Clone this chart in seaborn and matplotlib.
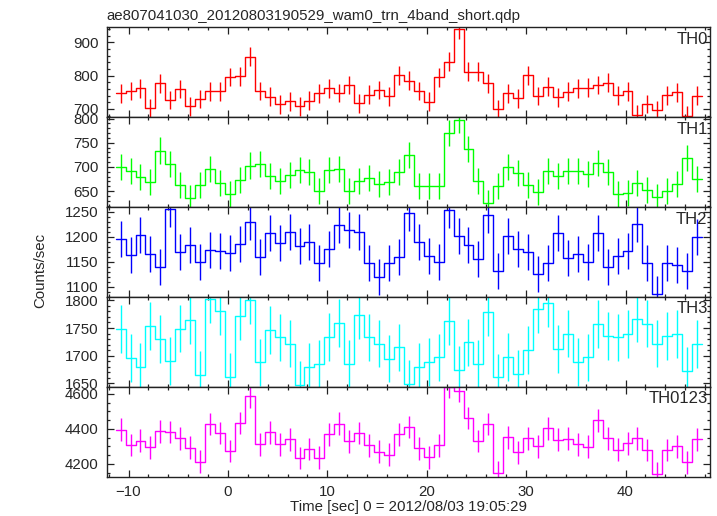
import numpy as np
import pandas as pd
import matplotlib
matplotlib.use("Agg")
import matplotlib.pyplot as plt
from matplotlib.ticker import MultipleLocator
import seaborn as sns

# light curve, 1 s bins, times relative to 2012/08/03 19:05:29
t_start = -11.3   # left edge of first bin
bin_width = 1.0

th0 = [747, 754, 762, 703, 777, 727, 760, 708, 730, 753,
       753, 796, 798, 857, 754, 737, 714, 723, 708, 725,
       747, 762, 748, 772, 717, 743, 757, 738, 801, 785,
       754, 722, 795, 842, 939, 812, 812, 777, 699, 747,
       732, 801, 739, 767, 735, 752, 762, 764, 772, 779,
       741, 753, 683, 715, 697, 741, 750, 680, 740]
th1 = [699, 692, 680, 669, 734, 706, 662, 635, 663, 695,
       666, 643, 673, 703, 707, 682, 671, 684, 693, 689,
       651, 693, 695, 651, 671, 678, 664, 668, 689, 725,
       660, 661, 660, 771, 798, 738, 671, 625, 660, 700,
       687, 663, 648, 691, 682, 692, 691, 685, 709, 689,
       643, 647, 667, 653, 638, 651, 664, 718, 676]
th2 = [1195, 1164, 1204, 1166, 1140, 1256, 1170, 1183, 1149, 1174,
       1172, 1167, 1185, 1229, 1160, 1207, 1188, 1209, 1182, 1189,
       1148, 1176, 1223, 1213, 1209, 1147, 1119, 1148, 1160, 1248,
       1189, 1161, 1150, 1253, 1202, 1183, 1156, 1243, 1131, 1202,
       1176, 1169, 1126, 1147, 1207, 1157, 1166, 1149, 1207, 1140,
       1161, 1171, 1225, 1147, 1085, 1147, 1144, 1132, 1199]
th3 = [1748, 1696, 1680, 1753, 1730, 1691, 1749, 1764, 1665, 1802,
       1781, 1662, 1771, 1801, 1688, 1746, 1733, 1722, 1647, 1680,
       1685, 1734, 1759, 1685, 1773, 1733, 1722, 1695, 1715, 1649,
       1680, 1689, 1697, 1763, 1674, 1724, 1686, 1779, 1661, 1698,
       1668, 1711, 1784, 1795, 1712, 1740, 1689, 1697, 1757, 1736,
       1733, 1739, 1767, 1758, 1722, 1736, 1739, 1673, 1721]
th0123 = [4396, 4309, 4333, 4295, 4387, 4383, 4347, 4293, 4213, 4429,
          4377, 4274, 4434, 4587, 4312, 4381, 4312, 4341, 4234, 4286,
          4236, 4370, 4430, 4330, 4377, 4307, 4270, 4253, 4370, 4411,
          4290, 4238, 4307, 4640, 4619, 4463, 4331, 4429, 4150, 4352,
          4267, 4347, 4301, 4404, 4339, 4345, 4312, 4299, 4450, 4347,
          4282, 4318, 4347, 4280, 4145, 4280, 4301, 4210, 4341]

bands = ["TH0", "TH1", "TH2", "TH3", "TH0123"]
rates = [th0, th1, th2, th3, th0123]
errors = [28, 27, 36, 43, 65]   # approx 1 sigma, counts/sec
colors = ["#ff0000", "#00ff00", "#0000ff", "#00ffff", "#ff00ff"]
ylims = [(675, 945), (617, 803), (1080, 1259), (1644, 1806), (4127, 4641)]
ymajor = [100, 50, 50, 50, 200]
yminor = [20, 10, 10, 10, 50]

sns.set_style("ticks")
plt.rcParams["font.family"] = ["Liberation Sans", "DejaVu Sans"]

fig = plt.figure(figsize=(7.17, 5.16), dpi=100)

left, width = 106.7 / 717, (710 - 106.7) / 717
top_px, bot_px = 27.3, 476.7
h_px = (bot_px - top_px) / 5

axes = []
for i, band in enumerate(bands):
    y0 = 1 - (top_px + (i + 1) * h_px) / 516
    ax = fig.add_axes([left, y0, width, h_px / 516],
                      sharex=axes[0] if axes else None)
    axes.append(ax)

    vals = np.array(rates[i], dtype=float)
    n = len(vals)
    edges = t_start + bin_width * np.arange(n + 1)
    centers = edges[:-1] + bin_width / 2

    df = pd.DataFrame({"time": edges, "rate": np.append(vals, vals[-1])})
    sns.lineplot(data=df, x="time", y="rate", ax=ax, color=colors[i],
                 drawstyle="steps-post", estimator=None, lw=1.0)
    ax.vlines(centers, vals - errors[i], vals + errors[i],
              color=colors[i], lw=1.0)

    ax.set_ylim(*ylims[i])
    ax.set_xlim(-12.2, 48.5)
    ax.yaxis.set_major_locator(MultipleLocator(ymajor[i]))
    ax.yaxis.set_minor_locator(MultipleLocator(yminor[i]))
    ax.xaxis.set_major_locator(MultipleLocator(10))
    ax.xaxis.set_minor_locator(MultipleLocator(2))
    ax.tick_params(which="both", direction="in", top=True, right=True,
                   width=0.9, labelsize=10.8, color="#222222")
    ax.tick_params(which="major", length=5, pad=6)
    ax.tick_params(which="minor", length=2.5)
    ax.set_xlabel("")
    ax.set_ylabel("")
    for s in ax.spines.values():
        s.set_linewidth(1.0)
        s.set_color("#222222")
    if i < 4:
        ax.tick_params(labelbottom=False)
    ax.text(0.996, 0.95, band, transform=ax.transAxes, ha="right", va="top",
            fontsize=12)

fig.text(left, 1 - 20 / 516, "ae807041030_20120803190529_wam0_trn_4band_short.qdp",
         ha="left", va="baseline", fontsize=10.8)
fig.text(40 / 717, 1 - 270 / 516, "Counts/sec", rotation=90,
         ha="center", va="center", fontsize=10.8)
fig.text(408 / 717, 1 - 507 / 516, "Time [sec] 0 = 2012/08/03 19:05:29",
         ha="center", va="center", fontsize=10.8)

fig.savefig("out.png", dpi=100)
